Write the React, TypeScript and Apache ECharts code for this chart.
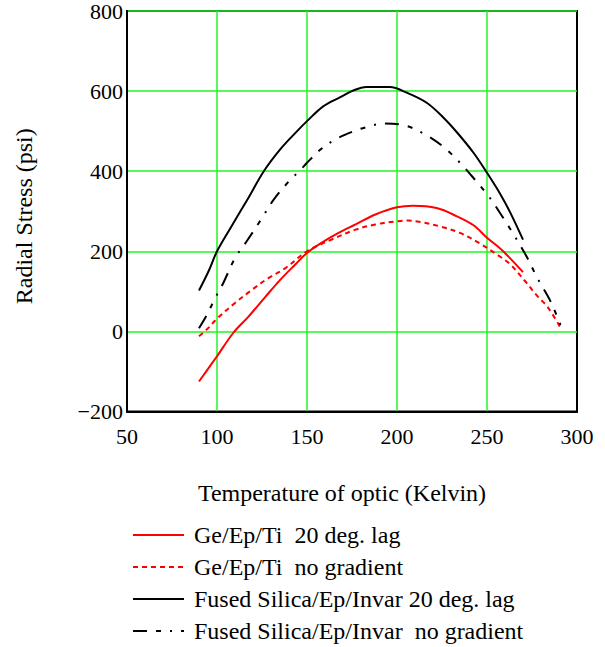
import React, { useEffect, useRef } from "react";
import * as echarts from "echarts";

// ---- data ----
const seriesNames = [
  "Ge/Ep/Ti  20 deg. lag",
  "Ge/Ep/Ti  no gradient",
  "Fused Silica/Ep/Invar 20 deg. lag",
  "Fused Silica/Ep/Invar  no gradient",
];

const geLagX = [90, 100, 109, 117.5, 127, 136, 143.5, 150, 158, 167.5, 177, 188, 200, 209, 222, 233, 242.5, 250, 259, 270];
const geLagY = [-125, -62, -4, 37, 87, 133, 167, 196, 221, 246, 267, 292, 310, 314, 308, 288, 265, 234, 200, 148];

const geNoX = [90, 95.5, 100, 110, 119.5, 128.5, 138, 150, 164, 177, 188, 200, 206, 213, 224, 235, 245.5, 255.5, 263, 270.5, 278, 283.5, 290.5];
const geNoY = [-12, 10, 32, 71, 104, 133, 158, 200, 230, 254, 267, 275, 277, 273, 262, 246, 221, 192, 167, 129, 88, 62, 12];

const fsLagX = [90, 95.5, 100, 108, 117, 126, 135, 144.5, 150, 159, 168.5, 176, 183, 196, 205.5, 216.5, 226, 233.5, 242.5, 250, 257.5, 263, 270];
const fsLagY = [102, 152, 200, 262, 330, 400, 454, 500, 525, 562, 585, 602, 610, 610, 596, 571, 533, 496, 446, 396, 342, 296, 229];

const fsNoX = [90, 94.5, 98.5, 103.5, 110, 116.5, 125, 131.5, 140, 146.5, 150, 157.5, 166, 176, 183, 192.5, 204.5, 215.5, 226, 235, 242.5, 251, 258.5, 265.5, 272, 278, 284.5, 289, 291.5];
const fsNoY = [8, 42, 79, 121, 183, 225, 283, 329, 375, 404, 421, 454, 480, 500, 510, 519, 514, 492, 460, 421, 383, 337, 287, 237, 187, 133, 82, 37, 8];

const xMin = 50;
const xMax = 300;
const xStep = 50;
const yMin = -200;
const yMax = 800;
const yStep = 200;

const xTitle = "Temperature of optic (Kelvin)";
const yTitle = "Radial Stress (psi)";

const zip = (xs: number[], ys: number[]) => xs.map((x, i) => [x, ys[i]]);

const FONT = "Liberation Serif";

export default function App() {
  const ref = useRef<HTMLDivElement>(null);

  useEffect(() => {
    if (!ref.current) return;
    const chart = echarts.init(ref.current, undefined, { renderer: "svg" });

    const mk = (name: string, xs: number[], ys: number[], color: string, type: any) => ({
      name,
      type: "line",
      data: zip(xs, ys),
      showSymbol: false,
      symbol: "none",
      smooth: 0.35,
      lineStyle: { color, width: 2, type },
      itemStyle: { color },
      emphasis: { disabled: true },
      z: 5,
    });

    chart.setOption({
      animation: false,
      backgroundColor: "#ffffff",
      textStyle: { fontFamily: FONT },
      grid: {
        left: 127,
        width: 450,
        top: 10.5,
        height: 401,
        show: true,
        borderColor: "#000",
        borderWidth: 2,
        backgroundColor: "transparent",
      },
      xAxis: {
        type: "value",
        min: xMin,
        max: xMax,
        interval: xStep,
        name: xTitle,
        nameLocation: "middle",
        nameGap: 69,
        nameTextStyle: { color: "#000", fontSize: 24, fontFamily: FONT, padding: [0, 20, 0, 0] },
        axisLine: { show: true, onZero: false, lineStyle: { color: "#000", width: 2 } },
        axisTick: { show: false },
        axisLabel: { color: "#000", fontSize: 22, fontFamily: FONT, margin: 14 },
        splitLine: { show: true, showMinLine: false, showMaxLine: false, lineStyle: { color: "#22f522", width: 1.5 } },
      },
      yAxis: {
        type: "value",
        min: yMin,
        max: yMax,
        interval: yStep,
        name: yTitle,
        nameLocation: "middle",
        nameGap: 91,
        nameTextStyle: { color: "#000", fontSize: 24, fontFamily: FONT, padding: [0, 10, 0, 0] },
        axisLine: { show: true, onZero: false, lineStyle: { color: "#000", width: 2 } },
        axisTick: { show: false },
        axisLabel: {
          color: "#000",
          fontSize: 22,
          fontFamily: FONT,
          margin: 4,
          padding: [8, 0, 0, 0],
          formatter: (v: number) => (v < 0 ? "\u2212" + Math.abs(v) : String(v)),
        },
        splitLine: { show: true, showMinLine: false, lineStyle: { color: "#22f522", width: 1.5 } },
      },
      legend: {
        show: true,
        orient: "vertical",
        left: 132,
        top: 523,
        padding: 0,
        itemWidth: 51,
        itemHeight: 14,
        itemGap: 8,
        selectedMode: false,
        itemStyle: { opacity: 0 },
        textStyle: { color: "#000", fontSize: 24, fontFamily: FONT, lineHeight: 24, padding: [0, 0, 0, 5] },
        data: seriesNames,
      },
      series: [
        mk(seriesNames[0], geLagX, geLagY, "#ff0000", "solid"),
        mk(seriesNames[1], geNoX, geNoY, "#ff0000", [5, 4]),
        mk(seriesNames[2], fsLagX, fsLagY, "#000000", "solid"),
        mk(seriesNames[3], fsNoX, fsNoY, "#000000", [14, 9, 5, 9, 2, 9]),
      ],
    });

    return () => chart.dispose();
  }, []);

  return (
    <div
      ref={ref}
      style={{ position: "fixed", left: 0, top: 0, width: 605, height: 647, background: "#fff" }}
    />
  );
}
